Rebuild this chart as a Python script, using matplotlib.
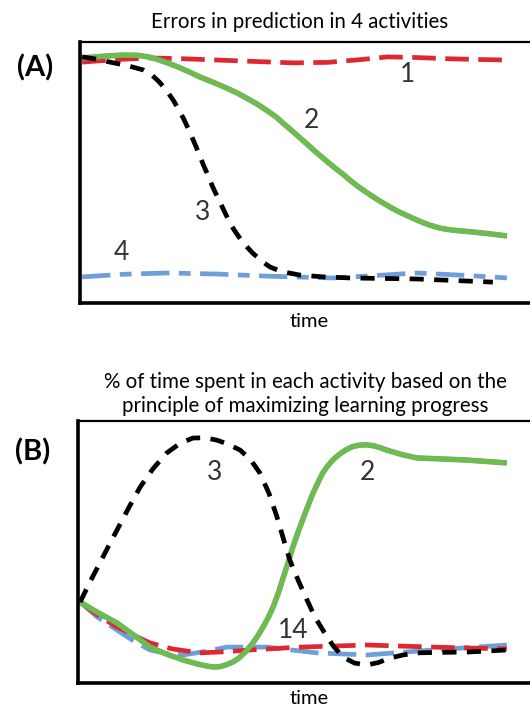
import matplotlib
matplotlib.use("Agg")
import matplotlib.pyplot as plt
import matplotlib.patheffects as pe

plt.rcParams["font.family"] = ["Lato", "DejaVu Sans"]

# ---- panel A: errors in prediction (x: time 0-100, y: error 0-100) ----
a1_x = [0.5, 8, 16, 24, 32, 40, 50, 58, 66, 72, 78, 86, 93, 100]
a1_y = [92.3, 93.2, 93.9, 93.6, 93.1, 92.6, 92.0, 92.2, 93.3, 94.3, 94.1, 93.6, 93.3, 93.1]

a2_x = [0.5, 6, 10, 13.5, 16, 18.0, 20.5, 23, 25.5, 28.1, 31, 34, 37, 39.8, 42, 44, 46,
        47.5, 49.5, 51.5, 53.5, 55.5, 57.5, 59.5, 61.5, 63.2, 65, 67, 69, 71.0, 73, 75, 77,
        78.9, 80.5, 82, 84.3, 86, 88, 90, 92.0, 96, 100]
a2_y = [93.9, 94.6, 95.0, 94.9, 94.3, 93.4, 92.0, 90.4, 88.6, 86.6, 84.7, 82.6, 80.3, 77.8,
        75.7, 73.5, 71.2, 69.0, 66.2, 63.3, 60.4, 57.5, 54.7, 52.0, 49.5, 47.1, 44.8, 42.5,
        40.3, 38.3, 36.4, 34.7, 33.2, 31.8, 30.7, 29.8, 28.7, 28.2, 27.8, 27.5, 27.2, 26.5, 25.7]

a3_x = [0.5, 4, 7.0, 11, 14.8, 16.8, 18.5, 20.2, 21.8, 23.1, 24.3, 25.4, 26.5, 27.7,
        28.8, 30.0, 31.1, 32.2, 33.2, 34.2, 35.1, 36.1, 37.1, 38.1, 39.1, 40.4, 41.8,
        43.1, 44.5, 46.2, 48, 51.5, 57, 63.2, 71, 78.9, 88, 96.7]
a3_y = [94.3, 93.4, 92.3, 91.0, 89.3, 87.4, 84.8, 81.6, 77.8, 74.2, 70.5, 66.6, 62.5, 57.9,
        53.3, 48.8, 44.4, 40.6, 37.2, 33.8, 30.7, 28.0, 25.6, 23.4, 21.5, 19.2, 17.2,
        15.4, 13.8, 12.7, 11.8, 10.7, 10.0, 9.6, 9.4, 9.2, 8.6, 8.0]

a4_x = [0.5, 10, 20.4, 32, 43.8, 52, 59.3, 68, 78.9, 90, 100]
a4_y = [10.0, 11.0, 11.5, 11.1, 10.3, 9.9, 9.6, 10.4, 11.5, 10.6, 9.6]

# ---- panel B: % of time spent in each activity ----
b1_x = [0.5, 4.5, 9.1, 13, 16.8, 22, 28.4, 34, 40.1, 51.7, 67.4, 82.8, 100]
b1_y = [30.9, 26.0, 21.4, 18.2, 15.3, 13.0, 11.5, 11.9, 12.6, 13.7, 14.5, 13.7, 13.0]

b2_x = [0.5, 4.5, 9.1, 13, 16.8, 20.5, 24.5, 28, 30, 31.5, 33, 34.5, 36.1, 37.5, 39, 40.8,
        42, 43.2, 44.4, 45.5, 46.7, 47.8, 49, 50.1, 51.3, 52.5, 53.7, 54.8, 56, 57, 58.2,
        59.4, 61, 62.5, 64, 65.7, 67.3, 69, 70.5, 72.0, 75.5, 79.0, 85, 90.7, 100]
b2_y = [30.9, 27.0, 22.9, 18.3, 13.7, 11.1, 8.8, 7.2, 6.5, 6.1, 6.2, 6.9, 8.0, 9.5, 11.8, 15.3,
        18.2, 21.5, 25.1, 29.0, 34.3, 40.0, 46.0, 51.9, 57.5, 62.8, 67.9, 72.5, 76.6, 80.0,
        82.8, 85.1, 87.4, 89.0, 90.2, 90.8, 90.9, 90.5, 89.8, 88.9, 87.2, 85.9, 85.5, 85.1, 84.0]

b3_x = [0.5, 2.8, 5.1, 7.1, 9.1, 11.8, 14.5, 17.5, 20.7, 23.8, 26.8, 29.6, 32.4, 35.2,
        37.8, 40.2, 42.4, 44.5, 46.4, 47.9, 49.4, 51.4, 53.4, 55.2, 57.1, 59.4, 61.8,
        64.5, 67.4, 70, 72.7, 75.8, 79.0, 85, 90.7, 100]
b3_y = [30.9, 38.6, 45.8, 52.2, 58.4, 66.8, 74.8, 81.8, 87.8, 91.5, 93.5, 93.6, 92.7, 91.0,
        88.9, 85.3, 80.2, 72.5, 63.4, 55.0, 46.9, 39.0, 31.7, 25.3, 20.2, 14.4, 9.9,
        7.6, 6.9, 7.8, 9.5, 10.7, 11.5, 11.7, 11.8, 12.6]

b4_x = [0.5, 4.5, 9.1, 13, 16.8, 20.5, 24.5, 29.5, 34.7, 44.1, 55.7, 67.4, 82.8, 100]
b4_y = [30.9, 25.2, 20.2, 16.0, 12.6, 11.3, 10.7, 12.0, 13.7, 13.7, 11.5, 10.7, 12.6, 14.5]

RED, GREEN, BLUE, BLACK = "#e0262f", "#6abf4b", "#6f9fd8", "#000000"
LBL = "#333333"
XMAX = 105.4  # axes run to the figure edge; curves stop at 100
LW = 3.4


def _frame(ax):
    ax.set_xlim(0, XMAX)
    ax.set_ylim(0, 100)
    ax.set_xticks([]); ax.set_yticks([])
    ax.spines["right"].set_visible(False)
    ax.spines["left"].set_linewidth(2.6)
    ax.spines["bottom"].set_linewidth(2.6)
    ax.spines["top"].set_linewidth(1.6)


def _green(ax, x, y):
    ax.plot(x, y, color=GREEN, lw=LW, solid_capstyle="butt", solid_joinstyle="round",
            path_effects=[pe.Stroke(linewidth=LW + 0.6, foreground="#8a9a80"), pe.Normal()])


fig = plt.figure(figsize=(5.3, 7.1), dpi=100)

# ---------------- (A) ----------------
axA = fig.add_axes([80 / 530, 1 - 303 / 710, 450 / 530, 261 / 710])
_frame(axA)
axA.plot(a1_x, a1_y, color=RED, lw=LW, dashes=(5, 2))
axA.plot(a4_x, a4_y, color=BLUE, lw=LW, dashes=(6, 2, 2.5, 2))
_green(axA, a2_x, a2_y)
axA.plot(a3_x, a3_y, color=BLACK, lw=LW, dashes=(3, 2.2))
for t, x, y in [("1", 76.8, 87.4), ("2", 54.3, 70.1), ("3", 28.6, 34.5), ("4", 9.6, 19.2)]:
    axA.text(x, y, t, fontsize=19, color=LBL, ha="center", va="center")

fig.text(300 / 530, 1 - 22 / 710, "Errors in prediction in 4 activities",
         fontsize=14.8, ha="center", va="center")
fig.text(35 / 530, 1 - 68 / 710, "(A)", fontsize=21, fontweight="bold",
         ha="center", va="center")
fig.text(309 / 530, 1 - 321 / 710, "time", fontsize=14.5, ha="center", va="center")

# ---------------- (B) ----------------
axB = fig.add_axes([78 / 530, 1 - 683 / 710, 452 / 530, 262 / 710])
_frame(axB)
axB.plot(b4_x, b4_y, color=BLUE, lw=LW, dashes=(6, 2))
axB.plot(b1_x, b1_y, color=RED, lw=LW, dashes=(5, 2))
_green(axB, b2_x, b2_y)
axB.plot(b3_x, b3_y, color=BLACK, lw=LW, dashes=(3, 2.2))
for t, x, y in [("3", 31.9, 80.2), ("2", 67.6, 80.5), ("14", 50.1, 20.2)]:
    axB.text(x, y, t, fontsize=19, color=LBL, ha="center", va="center")

fig.text(305 / 530, 1 - 394 / 710,
         "% of time spent in each activity based on the\n"
         "principle of maximizing learning progress",
         fontsize=14.8, ha="center", va="center", linespacing=1.2)
fig.text(33 / 530, 1 - 452 / 710, "(B)", fontsize=21, fontweight="bold",
         ha="center", va="center")
fig.text(309 / 530, 1 - 699 / 710, "time", fontsize=14.5, ha="center", va="center")

fig.savefig("out.png", dpi=100)
